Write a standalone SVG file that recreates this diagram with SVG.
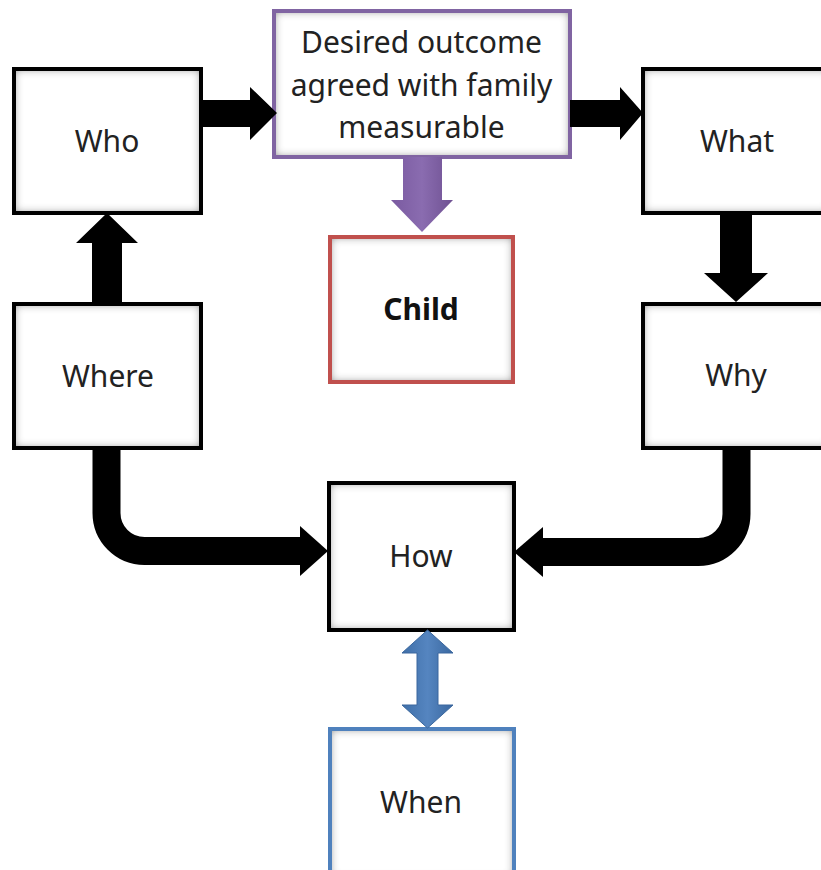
<svg xmlns="http://www.w3.org/2000/svg" width="821" height="870" viewBox="0 0 821 870">
<style>
.bg{fill:#fff;filter:url(#inner)}
.bd{fill:none;stroke-width:4}
.blk{stroke:#000}
.pur{stroke:#8064A2}
.red{stroke:#C0504D}
.blu{stroke:#4F81BD}
.t{font-family:"Noto Sans","Open Sans","Liberation Sans",sans-serif;font-size:30px;fill:#222;text-anchor:middle}
.b{font-weight:bold;fill:#111}
.ar{fill:#000}
.bend{fill:none;stroke:#000;stroke-width:28}
</style>
<defs>
<filter id="inner" x="-20%" y="-20%" width="140%" height="140%">
<feFlood flood-color="#444"/>
<feComposite in2="SourceAlpha" operator="out"/>
<feGaussianBlur stdDeviation="5"/>
<feComposite in2="SourceAlpha" operator="in" result="sh"/>
<feMerge><feMergeNode in="SourceGraphic"/><feMergeNode in="sh"/></feMerge>
</filter>
<linearGradient id="pg" x1="0" y1="0" x2="1" y2="0">
<stop offset="0" stop-color="#7a5aa0"/><stop offset="0.5" stop-color="#8a6cb0"/><stop offset="1" stop-color="#6f5192"/>
</linearGradient>
<linearGradient id="bg2" x1="0" y1="0" x2="1" y2="0">
<stop offset="0" stop-color="#3f6fa8"/><stop offset="0.5" stop-color="#5585c0"/><stop offset="1" stop-color="#3a68a0"/>
</linearGradient>
</defs>

<g id="who"><rect class="bg" x="14" y="69" width="187" height="144"/><rect class="bd blk" x="14" y="69" width="187" height="144"/><text class="t" x="107" y="152">Who</text></g>
<g id="desired"><rect class="bg" x="274" y="11" width="296" height="146"/><rect class="bd pur" x="274" y="11" width="296" height="146"/>
<text class="t" x="421.5" y="53">Desired outcome</text><text class="t" x="421.5" y="96">agreed with family</text><text class="t" x="421.5" y="138">measurable</text></g>
<g id="what"><rect class="bg" x="643" y="69" width="187" height="144"/><rect class="bd blk" x="643" y="69" width="187" height="144"/><text class="t" x="737" y="152">What</text></g>
<g id="child"><rect class="bg" x="330" y="237" width="183" height="145"/><rect class="bd red" x="330" y="237" width="183" height="145"/><text class="t b" x="421" y="320">Child</text></g>
<g id="where"><rect class="bg" x="14" y="304" width="187" height="144"/><rect class="bd blk" x="14" y="304" width="187" height="144"/><text class="t" x="108" y="387">Where</text></g>
<g id="why"><rect class="bg" x="643" y="304" width="187" height="144"/><rect class="bd blk" x="643" y="304" width="187" height="144"/><text class="t" x="736" y="386">Why</text></g>
<g id="how"><rect class="bg" x="329" y="483" width="185" height="147"/><rect class="bd blk" x="329" y="483" width="185" height="147"/><text class="t" x="421" y="567">How</text></g>
<g id="when"><rect class="bg" x="330" y="729" width="184" height="150"/><rect class="bd blu" x="330" y="729" width="184" height="150"/><text class="t" x="421" y="813">When</text></g>

<g id="connectors">
<polygon class="ar" points="201,100 250,100 250,87 277,113 250,140 250,127 201,127"/>
<polygon class="ar" points="570,100 620,100 620,87 643,113 620,140 620,127 570,127"/>
<polygon class="ar" points="720,213 752,213 752,273 768,273 736,302 704,273 720,273"/>
<polygon class="ar" points="92,304 122,304 122,243 138,243 107,213 76,243 92,243"/>
<polygon fill="url(#pg)" points="403,157 442,157 442,200 453,200 422,232 391,200 403,200"/>
<path class="bend" d="M106.5 450 V513 A38 38 0 0 0 144.5 551 H301"/>
<polygon class="ar" points="300,526 328,551 300,576"/>
<path class="bend" d="M736.5 450 V514 A38 38 0 0 1 698.5 552 H542"/>
<polygon class="ar" points="543,527 514,552 543,577"/>
<polygon fill="url(#bg2)" stroke="#3a679e" stroke-width="1" points="427.5,630 453,653 438,653 438,705 453,705 427.5,728 402,705 417,705 417,653 402,653"/>
</g>
</svg>
